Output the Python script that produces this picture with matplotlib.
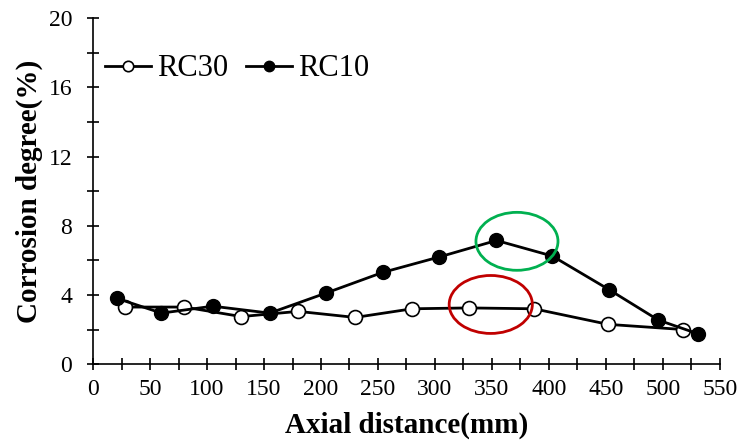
import matplotlib
matplotlib.use("Agg")
import matplotlib.pyplot as plt
from matplotlib.patches import Ellipse
from matplotlib.ticker import MultipleLocator

plt.rcParams["font.family"] = ["Liberation Serif", "DejaVu Serif"]

# RC30 (open circles)
rc30_x = [28, 80, 130, 180, 230, 280, 330, 387, 452, 518]
rc30_y = [3.3, 3.3, 2.75, 3.05, 2.7, 3.2, 3.25, 3.2, 2.3, 2.0]

# RC10 (filled circles)
rc10_x = [21, 60, 105, 155, 204, 254, 304, 354, 403, 453, 496, 531]
rc10_y = [3.8, 2.95, 3.35, 2.95, 4.1, 5.3, 6.2, 7.15, 6.25, 4.3, 2.55, 1.75]

# highlight ellipses: (x centre, y centre, width, height)
green_mark = (372, 7.1, 72, 3.35)
red_mark = (349, 3.45, 73, 3.35)

fig = plt.figure(figsize=(7.39, 4.43), dpi=100)
ax = fig.add_axes([0.126, 0.178, 0.848, 0.781])

ax.plot(rc30_x, rc30_y, color="black", lw=2.0, marker="o", ms=10,
        mfc="white", mec="black", mew=1.2, label="RC30", zorder=3)
ax.plot(rc10_x, rc10_y, color="black", lw=2.0, marker="o", ms=10,
        mfc="black", mec="black", label="RC10", zorder=3)

for (cx, cy, w, h), col in ((green_mark, "#00b050"), (red_mark, "#c00000")):
    ax.add_patch(Ellipse((cx, cy), w, h, fill=False, edgecolor=col, lw=2, zorder=4))

ax.set_xlim(0, 550)
ax.set_ylim(0, 20)
ax.xaxis.set_major_locator(MultipleLocator(50))
ax.xaxis.set_minor_locator(MultipleLocator(25))
ax.yaxis.set_major_locator(MultipleLocator(4))
ax.yaxis.set_minor_locator(MultipleLocator(2))
ax.tick_params(which="both", direction="inout", length=8, width=1.2, labelsize=17)
ax.tick_params(axis="x", pad=7)
ax.tick_params(axis="y", pad=11)
for s in ("top", "right"):
    ax.spines[s].set_visible(False)
for s in ("left", "bottom"):
    ax.spines[s].set_linewidth(1.2)

ax.set_xlabel("Axial distance(mm)", fontsize=21, fontweight="bold", labelpad=8)
ax.set_ylabel("Corrosion degree(%)", fontsize=21, fontweight="bold", labelpad=4)

ax.legend(loc="upper left", bbox_to_anchor=(-0.025, 0.975), ncol=2, frameon=False,
          fontsize=22, handlelength=1.5, handletextpad=0.2, columnspacing=0.6,
          markerscale=0.75)

fig.savefig("out.png", dpi=100)
